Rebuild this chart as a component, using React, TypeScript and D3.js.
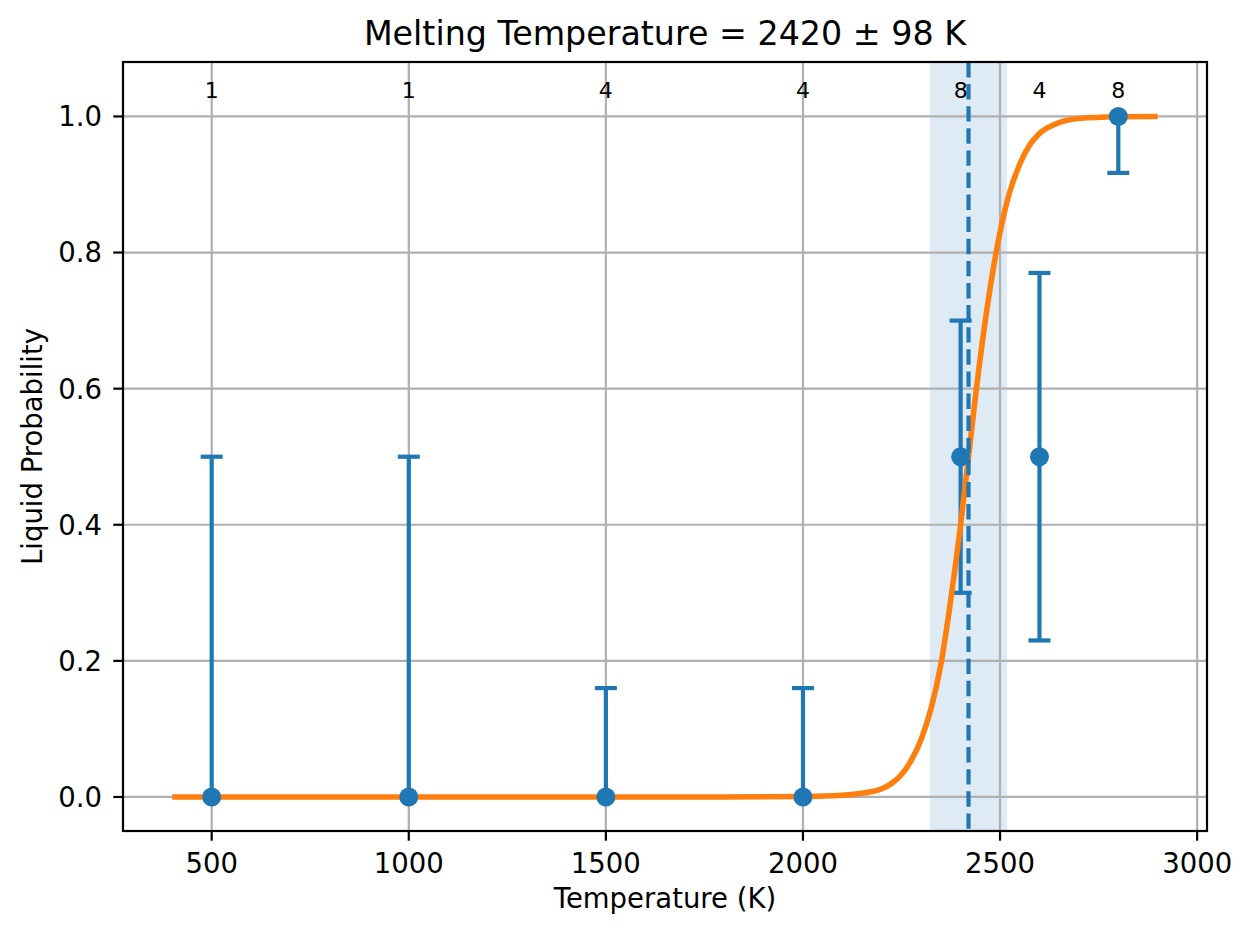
import * as d3 from "d3";

// observed liquid fraction per temperature
const temps = [500, 1000, 1500, 2000, 2400, 2600, 2800];
const liquidFrac = [0, 0, 0, 0, 0.5, 0.5, 1.0];
const errLow = [0, 0, 0, 0, 0.3, 0.23, 0.917];
const errHigh = [0.5, 0.5, 0.16, 0.16, 0.7, 0.77, 1.0];
const counts = [1, 1, 4, 4, 8, 4, 8];

// fitted curve
const fitT = [400, 1800, 2000, 2100, 2150, 2200, 2225, 2250, 2275, 2300, 2325, 2350, 2375, 2400, 2420, 2440, 2465, 2490, 2520, 2550, 2575, 2600, 2650, 2700, 2800, 2900];
const fitP = [0, 0, 0.0006, 0.0025, 0.0055, 0.012, 0.02, 0.033, 0.054, 0.085, 0.13, 0.195, 0.29, 0.4, 0.5, 0.6, 0.71, 0.8, 0.88, 0.93, 0.958, 0.975, 0.991, 0.997, 0.9995, 1.0];

const meltT = 2420;
const meltErr = 98;

const xTicks = [500, 1000, 1500, 2000, 2500, 3000];
const yTicks = [0, 0.2, 0.4, 0.6, 0.8, 1.0];

const W = 1253;
const H = 939;
const left = 123;
const right = 1207;
const top = 62;
const bottom = 831;

const BLUE = "#1f77b4";
const ORANGE = "#ff7f0e";
const GRID = "#b0b0b0";
const FONT = "DejaVu Sans";

export default function App() {
  const x = d3.scaleLinear().domain([275, 3025]).range([left, right]);
  const y = d3.scaleLinear().domain([-0.05, 1.08]).range([bottom, top]);

  const line = d3
    .line<number>()
    .x((_, i) => x(fitT[i]))
    .y((d) => y(d))
    .curve(d3.curveMonotoneX);

  const cap = 11;

  return (
    <svg width={W} height={H} style={{ position: "absolute", left: 0, top: 0, background: "#fff" }} fontFamily={FONT}>
      <rect x={0} y={0} width={W} height={H} fill="#fff" />
      {/* uncertainty band */}
      <rect
        x={x(meltT - meltErr)}
        y={top}
        width={x(meltT + meltErr) - x(meltT - meltErr)}
        height={bottom - top}
        fill={BLUE}
        fillOpacity={0.15}
      />
      {/* grid */}
      <g stroke={GRID} strokeWidth={2.2}>
        {xTicks.map((t) => (
          <line key={"gx" + t} x1={x(t)} x2={x(t)} y1={top} y2={bottom} />
        ))}
        {yTicks.map((t) => (
          <line key={"gy" + t} x1={left} x2={right} y1={y(t)} y2={y(t)} />
        ))}
      </g>
      {/* error bars */}
      <g stroke={BLUE} strokeWidth={4.2}>
        {temps.map((t, i) => (
          <g key={"eb" + t}>
            <line x1={x(t)} x2={x(t)} y1={y(errLow[i])} y2={y(errHigh[i])} />
            {errLow[i] !== liquidFrac[i] && (
              <line x1={x(t) - cap} x2={x(t) + cap} y1={y(errLow[i])} y2={y(errLow[i])} />
            )}
            {errHigh[i] !== liquidFrac[i] && (
              <line x1={x(t) - cap} x2={x(t) + cap} y1={y(errHigh[i])} y2={y(errHigh[i])} />
            )}
          </g>
        ))}
      </g>
      {/* fitted curve */}
      <path d={line(fitP) ?? ""} fill="none" stroke={ORANGE} strokeWidth={5.6} />
      {/* melting temperature */}
      <line
        x1={x(meltT)}
        x2={x(meltT)}
        y1={top}
        y2={bottom}
        stroke={BLUE}
        strokeWidth={4.2}
        strokeDasharray="15.4 6.7"
      />
      {/* data points */}
      {temps.map((t, i) => (
        <circle key={"pt" + t} cx={x(t)} cy={y(liquidFrac[i])} r={9.5} fill={BLUE} />
      ))}
      {/* counts */}
      {temps.map((t, i) => (
        <text key={"n" + t} x={x(t)} y={y(1.027)} fontSize={22} textAnchor="middle">
          {counts[i]}
        </text>
      ))}
      {/* frame */}
      <rect x={left} y={top} width={right - left} height={bottom - top} fill="none" stroke="#000" strokeWidth={2.2} />
      {/* x axis */}
      {xTicks.map((t) => (
        <g key={"xt" + t}>
          <line x1={x(t)} x2={x(t)} y1={bottom} y2={bottom + 9.7} stroke="#000" strokeWidth={2.2} />
          <text x={x(t)} y={873} fontSize={27.5} textAnchor="middle">
            {t}
          </text>
        </g>
      ))}
      {/* y axis */}
      {yTicks.map((t) => (
        <g key={"yt" + t}>
          <line x1={left} x2={left - 9.7} y1={y(t)} y2={y(t)} stroke="#000" strokeWidth={2.2} />
          <text x={102} y={y(t)} dy="0.36em" fontSize={27.5} textAnchor="end">
            {t.toFixed(1)}
          </text>
        </g>
      ))}
      <text x={(left + right) / 2} y={908} fontSize={27.5} textAnchor="middle">
        Temperature (K)
      </text>
      <text
        transform={`translate(42, ${(top + bottom) / 2}) rotate(-90)`}
        fontSize={27.5}
        textAnchor="middle"
      >
        Liquid Probability
      </text>
      <text x={(left + right) / 2} y={45} fontSize={33.3} textAnchor="middle">
        Melting Temperature = {meltT} ± {meltErr} K
      </text>
    </svg>
  );
}
